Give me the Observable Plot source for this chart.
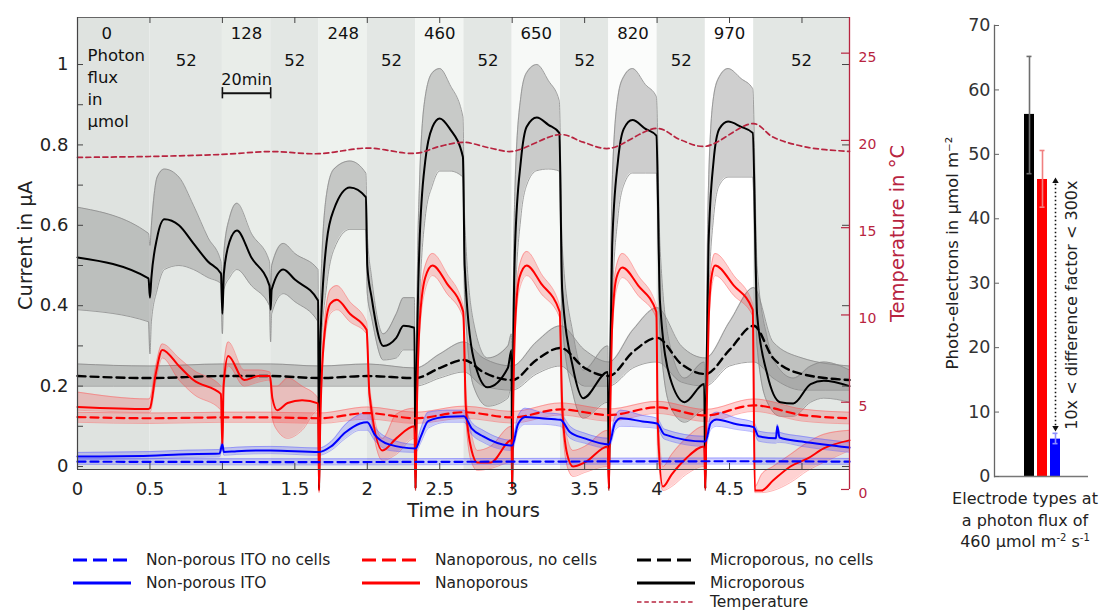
<!DOCTYPE html>
<html><head><meta charset="utf-8">
<script src="https://cdn.jsdelivr.net/npm/d3@7"></script>
<script src="https://cdn.jsdelivr.net/npm/@observablehq/plot@0.6"></script>
<style>
body{margin:0;background:#fff;font-family:"DejaVu Sans",sans-serif;color:#222}
#wrap{position:relative;width:1107px;height:611px;overflow:hidden;background:#fff}
#main{position:absolute;left:0;top:0}
#bars{position:absolute;left:910px;top:0}
.li{position:absolute;height:22px;display:flex;align-items:center;gap:15px;font-size:15.5px;white-space:nowrap;color:#222}
.li svg{display:block}
#xlab2{position:absolute;left:935px;width:180px;top:488px;text-align:center;font-size:16px;line-height:21.5px;color:#222}
#xlab2 sup{font-size:10px;vertical-align:6px;line-height:0}
</style></head><body>
<div id="wrap">
  <div id="main"></div>
  <div id="bars"></div>
  <div id="xlab2">Electrode types at<br>a photon flux of<br>460 µmol m<sup>-2</sup> s<sup>-1</sup></div>
  <div id="legend"></div>
</div>
<script>
// ---------- data ----------
const phaseStart = [0, 0.5, 1, 4/3, 5/3, 2, 7/3, 8/3, 3, 10/3, 11/3, 4, 13/3, 14/3];
const phaseEnd   = [0.5, 1, 4/3, 5/3, 2, 7/3, 8/3, 3, 10/3, 11/3, 4, 13/3, 14/3, 5.328];
const photonFlux = [0, 52, 128, 52, 248, 52, 460, 52, 650, 52, 820, 52, 970, 52];
const fluxLevels = [0, 52, 128, 248, 460, 650, 820, 970];

// [time h, mean µA, low, high]
const microporous = [
 [0,0.52,0.39,0.645],[0.49,0.468,0.36,0.58],[0.5,0.42,0.28,0.55],[0.51,0.47,0.36,0.6],
 [0.55,0.57,0.44,0.72],[0.6,0.615,0.49,0.74],[0.7,0.6,0.5,0.72],[0.8,0.555,0.49,0.65],
 [0.9,0.51,0.47,0.57],[0.99,0.48,0.455,0.51],[1.0,0.38,0.33,0.44],[1.01,0.48,0.44,0.53],
 [1.05,0.56,0.47,0.62],[1.1,0.587,0.49,0.655],[1.2,0.52,0.45,0.58],[1.325,0.45,0.4,0.51],
 [1.333,0.39,0.31,0.43],[1.34,0.44,0.38,0.5],[1.42,0.49,0.43,0.555],[1.5,0.465,0.41,0.53],
 [1.66,0.413,0.36,0.49],[1.667,-0.055,-0.06,-0.05],[1.675,0.3,0.25,0.4],[1.72,0.56,0.45,0.68],
 [1.77,0.64,0.54,0.74],[1.88,0.694,0.59,0.76],[1.99,0.67,0.59,0.73],[2.0,0.5,0.43,0.58],
 [2.03,0.42,0.37,0.47],[2.11,0.3,0.265,0.33],[2.2,0.32,0.27,0.38],[2.25,0.35,0.29,0.42],
 [2.325,0.345,0.29,0.42],[2.333,-0.055,-0.06,-0.05],[2.34,0.2,0.15,0.3],[2.36,0.55,0.4,0.7],
 [2.4,0.76,0.62,0.92],[2.45,0.845,0.7,0.98],[2.5,0.866,0.735,0.99],[2.57,0.84,0.735,0.95],
 [2.66,0.77,0.72,0.87],[2.672,0.5,0.42,0.62],[2.733,0.27,0.2,0.36],[2.83,0.197,0.15,0.27],
 [2.97,0.245,0.17,0.3],[2.995,0.29,0.2,0.33],[3.0,-0.055,-0.06,-0.05],[3.005,0.2,0.15,0.3],
 [3.02,0.55,0.4,0.7],[3.06,0.76,0.62,0.92],[3.1,0.845,0.7,0.98],[3.17,0.868,0.736,1.0],
 [3.25,0.85,0.74,0.96],[3.325,0.83,0.735,0.91],[3.345,0.44,0.36,0.55],[3.42,0.245,0.18,0.33],
 [3.49,0.17,0.12,0.24],[3.66,0.235,0.16,0.3],[3.667,-0.055,-0.06,-0.05],[3.675,0.2,0.15,0.3],
 [3.69,0.55,0.4,0.7],[3.73,0.76,0.62,0.92],[3.77,0.84,0.7,0.97],[3.83,0.862,0.73,0.99],
 [3.92,0.84,0.73,0.95],[3.995,0.823,0.73,0.92],[4.02,0.41,0.33,0.55],[4.09,0.22,0.15,0.3],
 [4.19,0.16,0.11,0.22],[4.325,0.205,0.14,0.26],[4.333,-0.055,-0.06,-0.05],[4.34,0.2,0.15,0.3],
 [4.355,0.55,0.4,0.7],[4.39,0.76,0.62,0.92],[4.43,0.84,0.7,0.97],[4.49,0.858,0.72,0.99],
 [4.58,0.845,0.72,0.965],[4.66,0.83,0.72,0.94],[4.69,0.38,0.3,0.5],[4.76,0.23,0.16,0.32],
 [4.85,0.16,0.125,0.24],[4.94,0.157,0.125,0.22],[5.06,0.205,0.16,0.25],[5.15,0.213,0.17,0.26],
 [5.328,0.2,0.16,0.24]
];
const microporousNoCells = [
 [0,0.225,0.2,0.255],[0.5,0.22,0.2,0.25],[1.0,0.225,0.2,0.255],[1.333,0.225,0.2,0.255],
 [1.667,0.22,0.2,0.25],[2.0,0.225,0.2,0.255],[2.333,0.22,0.2,0.245],[2.5,0.245,0.22,0.28],
 [2.667,0.265,0.235,0.31],[2.8,0.235,0.2,0.27],[3.0,0.215,0.19,0.25],[3.167,0.265,0.23,0.31],
 [3.333,0.295,0.25,0.35],[3.5,0.245,0.2,0.29],[3.667,0.225,0.2,0.26],[3.833,0.285,0.245,0.34],
 [4.0,0.32,0.26,0.395],[4.167,0.255,0.21,0.3],[4.333,0.23,0.2,0.27],[4.5,0.29,0.25,0.36],
 [4.667,0.35,0.26,0.445],[4.8,0.27,0.22,0.31],[5.0,0.23,0.19,0.27],[5.328,0.215,0.19,0.25]
];
const nanoporous = [
 [0,0.148,0.14,0.185],[0.49,0.143,0.135,0.168],[0.5,0.145,0.135,0.17],[0.54,0.23,0.21,0.25],
 [0.585,0.29,0.27,0.305],[0.7,0.25,0.215,0.27],[0.8,0.215,0.18,0.24],[0.99,0.18,0.14,0.2],
 [1.0,0.045,0.04,0.05],[1.008,0.2,0.18,0.24],[1.04,0.275,0.25,0.31],[1.15,0.215,0.2,0.24],
 [1.25,0.225,0.21,0.24],[1.328,0.225,0.215,0.235],[1.345,0.17,0.12,0.2],[1.378,0.14,0.09,0.2],
 [1.45,0.158,0.07,0.22],[1.55,0.165,0.09,0.2],[1.66,0.157,0.14,0.17],[1.667,-0.06,-0.065,-0.055],
 [1.675,0.1,0.08,0.12],[1.7,0.31,0.29,0.34],[1.745,0.405,0.38,0.44],[1.79,0.415,0.39,0.45],
 [1.88,0.38,0.36,0.41],[1.995,0.34,0.33,0.36],[2.015,0.18,0.16,0.2],[2.105,0.04,0.015,0.07],
 [2.2,0.07,0.03,0.13],[2.325,0.1,0.07,0.145],[2.333,-0.055,-0.06,-0.05],[2.34,0.1,0.08,0.12],
 [2.36,0.35,0.32,0.39],[2.4,0.47,0.44,0.5],[2.45,0.5,0.475,0.53],[2.55,0.455,0.43,0.48],
 [2.662,0.385,0.37,0.4],[2.68,0.15,0.12,0.19],[2.72,0.04,0.01,0.08],[2.76,0.01,-0.01,0.04],
 [2.85,0.01,-0.005,0.05],[2.995,0.065,0.01,0.1],[3.0,-0.055,-0.06,-0.05],[3.005,0.1,0.08,0.12],
 [3.02,0.35,0.32,0.39],[3.05,0.47,0.44,0.5],[3.1,0.5,0.475,0.535],[3.2,0.455,0.43,0.48],
 [3.328,0.385,0.37,0.4],[3.345,0.15,0.12,0.19],[3.38,0.03,0.0,0.07],[3.42,0.0,-0.025,0.04],
 [3.5,0.01,-0.015,0.05],[3.66,0.05,0.0,0.09],[3.667,-0.055,-0.06,-0.05],[3.675,0.1,0.08,0.12],
 [3.69,0.35,0.32,0.39],[3.72,0.47,0.44,0.5],[3.76,0.495,0.47,0.53],[3.87,0.45,0.425,0.475],
 [3.995,0.385,0.37,0.4],[4.005,0.1,0.05,0.15],[4.04,-0.05,-0.06,0.0],[4.1,-0.02,-0.05,0.03],
 [4.2,0.02,-0.02,0.07],[4.325,0.05,0.0,0.1],[4.333,-0.055,-0.06,-0.05],[4.34,0.1,0.08,0.12],
 [4.355,0.35,0.32,0.39],[4.375,0.47,0.44,0.5],[4.4,0.5,0.475,0.53],[4.53,0.45,0.425,0.475],
 [4.66,0.39,0.375,0.405],[4.675,-0.06,-0.065,-0.05],[4.72,-0.06,-0.065,-0.02],[4.8,-0.035,-0.06,0.0],
 [4.92,0.0,-0.04,0.03],[5.04,0.02,-0.01,0.06],[5.15,0.045,0.01,0.08],[5.328,0.065,0.04,0.09]
];
const nanoporousNoCells = [
 [0,0.123,0.11,0.135],[0.5,0.12,0.107,0.133],[1.0,0.122,0.11,0.135],[1.333,0.122,0.11,0.135],
 [1.667,0.12,0.107,0.133],[2.0,0.133,0.118,0.148],[2.333,0.12,0.107,0.135],[2.667,0.135,0.12,0.15],
 [3.0,0.122,0.108,0.137],[3.333,0.142,0.128,0.158],[3.667,0.128,0.113,0.143],[4.0,0.147,0.132,0.162],
 [4.333,0.127,0.112,0.142],[4.667,0.152,0.137,0.168],[5.0,0.128,0.113,0.143],[5.328,0.12,0.106,0.135]
];
const nonPorousITO = [
 [0,0.025,0.017,0.035],[0.5,0.027,0.019,0.037],[0.7,0.03,0.022,0.04],[0.98,0.032,0.024,0.042],
 [1.0,0.055,0.045,0.065],[1.01,0.036,0.028,0.046],[1.1,0.038,0.03,0.048],[1.333,0.04,0.032,0.05],
 [1.667,0.036,0.028,0.046],[1.75,0.05,0.04,0.062],[1.85,0.085,0.07,0.105],[1.95,0.107,0.09,0.13],
 [2.0,0.11,0.09,0.135],[2.05,0.08,0.065,0.1],[2.15,0.055,0.04,0.07],[2.333,0.045,0.035,0.055],
 [2.37,0.075,0.06,0.095],[2.42,0.113,0.095,0.135],[2.55,0.124,0.11,0.14],[2.667,0.125,0.11,0.14],
 [2.72,0.095,0.08,0.11],[2.8,0.075,0.06,0.09],[3.0,0.052,0.04,0.065],[3.04,0.105,0.09,0.125],
 [3.09,0.123,0.105,0.145],[3.2,0.12,0.105,0.135],[3.333,0.116,0.1,0.13],[3.4,0.085,0.07,0.1],
 [3.5,0.07,0.058,0.083],[3.667,0.055,0.045,0.07],[3.71,0.108,0.09,0.125],[3.75,0.12,0.1,0.14],
 [3.9,0.112,0.098,0.127],[4.0,0.107,0.095,0.12],[4.05,0.08,0.068,0.093],[4.333,0.062,0.05,0.075],
 [4.37,0.108,0.092,0.125],[4.41,0.117,0.1,0.135],[4.55,0.105,0.092,0.12],[4.667,0.098,0.085,0.11],
 [4.7,0.075,0.063,0.088],[4.82,0.07,0.058,0.083],[4.83,0.1,0.06,0.105],[4.845,0.072,0.06,0.085],
 [5.0,0.062,0.05,0.075],[5.328,0.047,0.035,0.06]
];
const nonPorousITONoCells = [
 [0,0.012,0.005,0.02],[1.667,0.011,0.004,0.019],[3.0,0.012,0.005,0.02],[4.5,0.013,0.006,0.021],[5.328,0.012,0.005,0.02]
];
// [time h, °C]
const temperature = [
 [0,19.03],[0.5,19.08],[1.0,19.2],[1.333,19.36],[1.667,19.24],[2.0,19.56],[2.333,19.26],
 [2.5,19.66],[2.667,19.89],[2.85,19.56],[3.0,19.37],[3.333,20.34],[3.49,19.9],[3.667,19.54],
 [4.0,20.69],[4.16,20.04],[4.333,19.66],[4.667,20.96],[4.8,20.19],[5.04,19.6],[5.328,19.37]
];
const xTicks = [0, 0.5, 1, 1.5, 2, 2.5, 3, 3.5, 4, 4.5, 5];
const yTicks = [0, 0.2, 0.4, 0.6, 0.8, 1];
const yMinorTicks = [0, 0.1, 0.2, 0.3, 0.4, 0.5, 0.6, 0.7, 0.8, 0.9, 1];
const tempTicks = [0, 5, 10, 15, 20, 25];

// bar panel
const electrodeTypes = ["Microporous", "Nanoporous", "Non-porous ITO"];
const photoElectrons = [56.2, 46.1, 5.8];
const errorLow = [47, 41.8, 5.1];
const errorHigh = [65.2, 50.6, 6.7];
const barTicks = [0, 10, 20, 30, 40, 50, 60, 70];
const factorArrow = [46, 7.4];

// ---------- styles ----------
const fluxShades = ["#dfe3e0","#e3e7e4","#e9ede9","#eef2ee","#f3f6f3","#f7f9f7","#fbfcfb","#ffffff"];
const RED_T = "#b8243f";
const X_MAX = 5.328, Y_MIN = -0.0075, Y_MAX = 1.117;
const T0 = -0.0572, TPER = (1.0283 - T0) / 25; // temperature axis mapped onto current axis
const tempToCur = t => T0 + t * TPER;
const FW = 772, FH = 452;

const phases = photonFlux.map((f, i) => ({start: phaseStart[i], end: phaseEnd[i], flux: f, mid: (phaseStart[i] + phaseEnd[i]) / 2}));

function band(rows, fill, op, edge) {
  return [
    Plot.areaY(rows, {x: d => d[0], y1: d => d[2], y2: d => d[3], fill, fillOpacity: op, curve: "monotone-x"}),
    Plot.lineY(rows, {x: d => d[0], y: d => d[2], stroke: edge, strokeWidth: 0.8, curve: "monotone-x"}),
    Plot.lineY(rows, {x: d => d[0], y: d => d[3], stroke: edge, strokeWidth: 0.8, curve: "monotone-x"})
  ];
}
function line(rows, stroke, dash, w = 2) {
  return Plot.lineY(rows, {x: d => d[0], y: d => d[1], stroke, strokeWidth: w, strokeDasharray: dash, curve: "monotone-x"});
}

const mainPlot = Plot.plot({
  width: 910, height: 530,
  marginLeft: 77, marginRight: 61, marginTop: 17, marginBottom: 61,
  x: {domain: [0, X_MAX], axis: null},
  y: {domain: [Y_MIN, Y_MAX], axis: null},
  color: {type: "ordinal", domain: fluxLevels, range: fluxShades},
  style: {fontFamily: "DejaVu Sans", fontSize: "16px", color: "#222", background: "transparent", overflow: "visible"},
  marks: [
    Plot.rect(phases, {x1: "start", x2: "end", fill: "flux"}),
    ...band(microporous, "#8c8c8c", 0.42, "#8a8a8a"),
    ...band(microporousNoCells, "#8c8c8c", 0.42, "#8a8a8a"),
    ...band(nanoporous, "#ff2020", 0.2, "rgba(255,80,80,0.55)"),
    ...band(nanoporousNoCells, "#ff2020", 0.2, "rgba(255,80,80,0.55)"),
    ...band(nonPorousITO, "#3030ff", 0.22, "rgba(90,90,255,0.55)"),
    ...band(nonPorousITONoCells, "#3030ff", 0.22, "rgba(90,90,255,0.55)"),
    line(microporousNoCells, "#000", "8,5", 2.4),
    line(microporous, "#000", null, 2),
    line(nanoporousNoCells, "#ff0000", "8,5", 2.2),
    line(nanoporous, "#ff0000", null, 2),
    line(nonPorousITONoCells, "#0000ff", "8,5", 2.2),
    line(nonPorousITO, "#0000ff", null, 2),
    Plot.lineY(temperature, {x: d => d[0], y: d => tempToCur(d[1]), stroke: RED_T, strokeWidth: 1.7, strokeDasharray: "5,3.5", curve: "catmull-rom"}),
    // flux labels
    Plot.text(phases.filter(d => d.flux === 0), {x: "mid", text: d => String(d.flux), frameAnchor: "top", lineAnchor: "middle", dy: 16, dx: -7, fontSize: 16.5, fill: "#111"}),
    Plot.text(phases.filter(d => d.flux !== 52 && d.flux !== 0), {x: "mid", text: d => String(d.flux), frameAnchor: "top", lineAnchor: "middle", dy: 16, fontSize: 16.5, fill: "#111"}),
    Plot.text(phases.filter(d => d.flux === 52), {x: "mid", text: d => String(d.flux), frameAnchor: "top", lineAnchor: "middle", dy: 43, fontSize: 16.5, fill: "#111"}),
    Plot.text(["Photon\nflux\nin\nµmol"], {frameAnchor: "top-left", dx: 10, dy: 28, textAnchor: "start", lineHeight: 1.33, fontSize: 16.5, fill: "#111"}),
    // 20 min scale bar
    Plot.ruleY([0.9286], {x1: phaseStart[2], x2: phaseStart[3], stroke: "#111", strokeWidth: 2}),
    Plot.ruleX([phaseStart[2], phaseStart[3]], {y1: 0.9146, y2: 0.9426, stroke: "#111", strokeWidth: 1.6}),
    Plot.text(["20min"], {x: (phaseStart[2] + phaseStart[3]) / 2, y: 0.9286, dy: -13, fontSize: 16, fill: "#111"}),
    // frame
    Plot.ruleY([Y_MIN], {stroke: "#444", strokeWidth: 1.2}),
    Plot.ruleY([Y_MAX], {stroke: "#666", strokeWidth: 1}),
    Plot.ruleX([0], {stroke: "#444", strokeWidth: 1.2}),
    Plot.tickX(xTicks, {x: d => d, insetTop: FH - 6, stroke: "#444"}),
    Plot.tickX(xTicks, {x: d => d, insetBottom: FH - 6, stroke: "#444"}),
    Plot.tickY(yMinorTicks, {y: d => d, insetRight: FW - 6, stroke: "#444"}),
    Plot.tickY(yTicks, {y: d => d, insetLeft: FW - 7, stroke: "#444"}),
    Plot.axisX({ticks: xTicks, tickSize: 0, tickPadding: 13, fontSize: 18, fill: "#222", tickFormat: d => String(d)}),
    Plot.axisY({ticks: yTicks, tickSize: 0, tickPadding: 9, fontSize: 18, fill: "#222", tickFormat: d => String(d)}),
    // temperature axis
    Plot.ruleX([X_MAX], {y1: tempToCur(0), y2: Y_MAX, stroke: RED_T, strokeWidth: 1.3}),
    Plot.tickY(tempTicks, {y: d => tempToCur(d), insetLeft: FW - 8, stroke: RED_T, strokeWidth: 1.2}),
    Plot.text(tempTicks, {x: X_MAX, y: d => tempToCur(d), text: d => String(d), dx: 9, dy: 4, textAnchor: "start", fill: RED_T, fontSize: 14}),
    // axis titles
    Plot.text(["Temperature in °C"], {frameAnchor: "right", textAnchor: "middle", dx: 48, dy: -10, rotate: -90, fill: RED_T, fontSize: 19.5}),
    Plot.text(["Current in µA"], {frameAnchor: "left", textAnchor: "middle", dx: -52, dy: 2, rotate: -90, fill: "#222", fontSize: 19.5}),
    Plot.text(["Time in hours"], {frameAnchor: "bottom", dx: 10, dy: 47, fill: "#222", fontSize: 19.5})
  ]
});
document.getElementById("main").appendChild(mainPlot);

// ---------- bar panel ----------
const bars = electrodeTypes.map((t, i) => ({type: t, value: photoElectrons[i], lo: errorLow[i], hi: errorHigh[i]}));
const errColors = ["#6e6e6e", "#f08080", "#8c8cff"];
const BFW = 94;
const barPlot = Plot.plot({
  width: 197, height: 490,
  marginLeft: 84, marginRight: 19, marginTop: 25, marginBottom: 14,
  x: {type: "band", domain: electrodeTypes, paddingInner: 0.22, paddingOuter: 2, align: 0.52, axis: null},
  y: {domain: [0, 70], axis: null},
  color: {domain: electrodeTypes, range: ["#000000", "#ff0000", "#0000ff"]},
  style: {fontFamily: "DejaVu Sans", fontSize: "16px", color: "#222", background: "transparent", overflow: "visible"},
  marks: [
    Plot.barY(bars, {x: "type", y: "value", fill: "type"}),
    ...bars.map((b, i) => Plot.ruleX([b], {x: "type", y1: "lo", y2: "hi", stroke: errColors[i], strokeWidth: 1.6})),
    ...bars.map((b, i) => Plot.tickY([b], {x: "type", y: "hi", stroke: errColors[i], strokeWidth: 1.6, insetLeft: 2.5, insetRight: 2.5})),
    ...bars.map((b, i) => Plot.tickY([b], {x: "type", y: "lo", stroke: errColors[i], strokeWidth: 1.6, insetLeft: 2.5, insetRight: 2.5})),
    Plot.ruleX([{type: electrodeTypes[2]}], {x: "type", y1: factorArrow[0], y2: factorArrow[1], stroke: "#111", strokeWidth: 1.6, strokeDasharray: "1.6,2.4"}),
    Plot.dot([{type: electrodeTypes[2], y: factorArrow[0]}], {x: "type", y: "y", symbol: "triangle", r: 2.4, fill: "#111", dy: 1}),
    Plot.dot([{type: electrodeTypes[2], y: factorArrow[1]}], {x: "type", y: "y", symbol: "triangle", r: 2.4, fill: "#111", rotate: 180, dy: -1}),
    Plot.text(["10x < difference factor < 300x"], {x: () => electrodeTypes[2], y: () => 26.6, dx: 16, rotate: -90, fontSize: 16, fill: "#222"}),
    Plot.ruleY([0], {stroke: "#777", strokeWidth: 1.3}),
    Plot.frame({anchor: "left", stroke: "#666", strokeWidth: 1.3}),
    Plot.tickY(barTicks, {y: d => d, insetRight: BFW - 5, stroke: "#666"}),
    Plot.axisY({ticks: barTicks, tickSize: 0, tickPadding: 4, fontSize: 17.5, fill: "#333"}),
    Plot.text(["Photo-electrons in µmol m⁻²"], {frameAnchor: "left", textAnchor: "middle", dx: -42, dy: 2, rotate: -90, fontSize: 16.5, fill: "#222"})
  ]
});
document.getElementById("bars").appendChild(barPlot);

// ---------- legend ----------
const legendItems = [
  {label: "Non-porous ITO no cells", color: "#0000ff", dash: "14,6", w: 3, left: 73, top: 560},
  {label: "Non-porous ITO", color: "#0000ff", dash: null, w: 3, left: 73, top: 583},
  {label: "Nanoporous, no cells", color: "#ff0000", dash: "14,6", w: 3, left: 362, top: 560},
  {label: "Nanoporous", color: "#ff0000", dash: null, w: 3, left: 362, top: 583},
  {label: "Microporous, no cells", color: "#000000", dash: "14,6", w: 3, left: 637, top: 560},
  {label: "Microporous", color: "#000000", dash: null, w: 3, left: 637, top: 583},
  {label: "Temperature", color: RED_T, dash: "4.5,2.8", w: 1.5, left: 637, top: 602}
];
const leg = document.getElementById("legend");
for (const it of legendItems) {
  const d = document.createElement("div");
  d.className = "li";
  d.style.left = it.left + "px";
  d.style.top = (it.top - 11) + "px";
  d.innerHTML = `<svg width="58" height="8"><line x1="0" y1="4" x2="58" y2="4" stroke="${it.color}" stroke-width="${it.w}" ${it.dash ? `stroke-dasharray="${it.dash}"` : ""}/></svg><span>${it.label}</span>`;
  leg.appendChild(d);
}
</script>
</body></html>
